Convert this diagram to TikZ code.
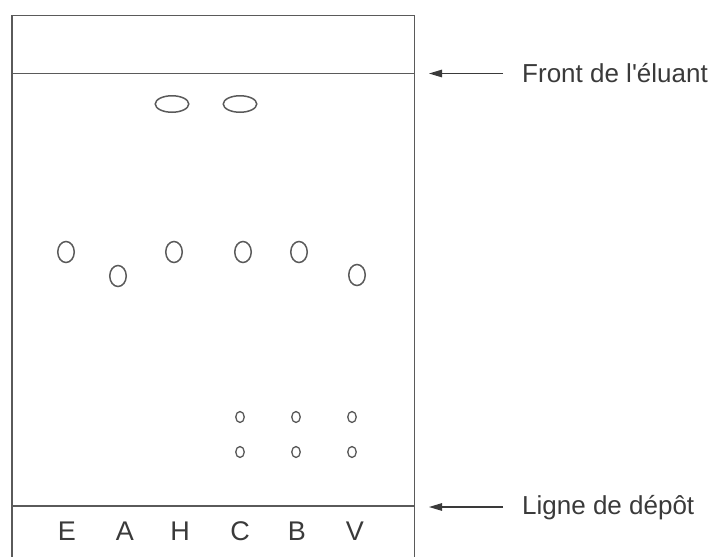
\documentclass[tikz,border=0pt]{standalone}
\usepackage{fontspec}
\setmainfont{Liberation Sans}
\newfontfamily\calloutfont{Liberation Sans}
\usetikzlibrary{shapes.geometric,arrows.meta}
\definecolor{plate}{HTML}{5A5A5A}
\definecolor{ink}{HTML}{3A3A3A}
\tikzset{
  platel/.style={draw=plate, line width=1.5pt},
  bigspot/.style={ellipse, draw=plate, line width=1.5pt, inner sep=0pt, minimum width=33.5pt, minimum height=16.5pt},
  midspot/.style={ellipse, draw=plate, line width=1.5pt, inner sep=0pt, minimum width=16.5pt, minimum height=21pt},
  smallspot/.style={ellipse, draw=plate, line width=1.3pt, inner sep=0pt, minimum width=8.5pt, minimum height=11pt},
  lane/.style={text=ink, font=\fontsize{27}{30}\selectfont, inner sep=0pt},
  callout/.style={text=ink, font=\calloutfont\fontsize{26}{29}\selectfont, anchor=west, inner sep=0pt},
  pointer/.style={draw=ink, line width=1.2pt, -{Triangle[length=13pt,width=7.5pt]}}
}
\begin{document}
\begin{tikzpicture}[x=1pt,y=-1pt]
\useasboundingbox (0,0) rectangle (715,557);
% plate
\draw[platel] (12,557) -- (12,15.5) -- (414.5,15.5) -- (414.5,557);
\coordinate (frontL) at (12,73.5);
\coordinate (frontR) at (414.5,73.5);
\coordinate (depotL) at (12,506);
\coordinate (depotR) at (414.5,506);
\draw[platel] (frontL) -- (frontR);
\draw[platel] (depotL) -- (depotR);
% lane labels
\node[lane] (lE) at (67,531) {E};
\node[lane] (lA) at (125,531) {A};
\node[lane] (lH) at (180,531) {H};
\node[lane] (lC) at (240,531) {C};
\node[lane] (lB) at (297,531) {B};
\node[lane] (lV) at (355,531) {V};
% spots
\node[bigspot] (h1) at (172,104) {};
\node[bigspot] (c1) at (240,104) {};
\node[midspot] (e2) at (66,252) {};
\node[midspot] (a2) at (118,276) {};
\node[midspot] (h2) at (174,252) {};
\node[midspot] (c2) at (243,252) {};
\node[midspot] (b2) at (299,252) {};
\node[midspot] (v2) at (357,275) {};
\node[smallspot] (c3) at (240,417) {};
\node[smallspot] (b3) at (296,417) {};
\node[smallspot] (v3) at (352,417) {};
\node[smallspot] (c4) at (240,452) {};
\node[smallspot] (b4) at (296,452) {};
\node[smallspot] (v4) at (352,452) {};
% callouts
\node[callout] (front) at (522,73) {Front de l'éluant};
\node[callout] (depot) at (522,508) {Ligne de dépôt};
\coordinate (fronttip) at (429,73.5);
\coordinate (depottip) at (429,507);
\draw[pointer] ([xshift=-19pt]front.west |- fronttip) -- (fronttip);
\draw[pointer] ([xshift=-19pt]depot.west |- depottip) -- (depottip);
\end{tikzpicture}
\end{document}
